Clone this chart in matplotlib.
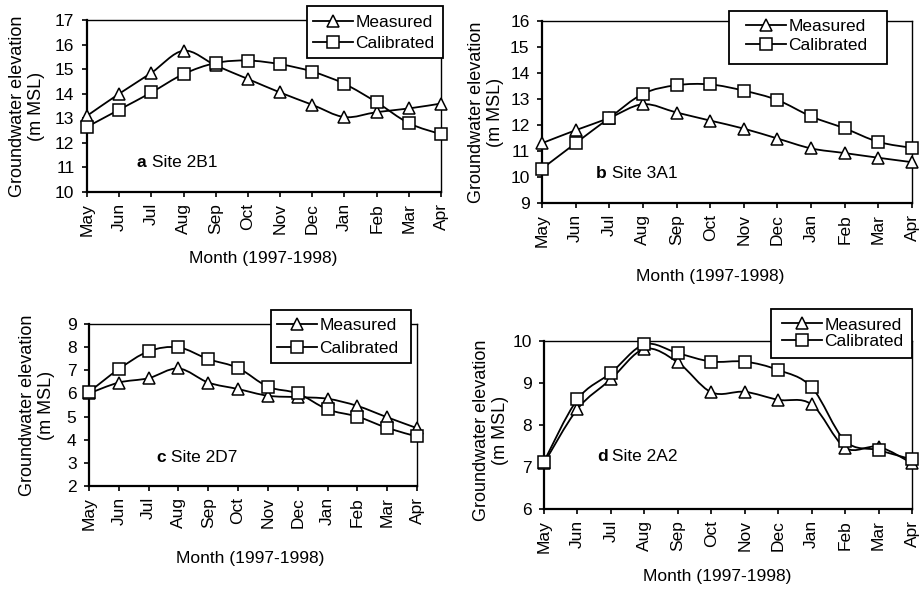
import matplotlib
matplotlib.use("Agg")
import matplotlib.pyplot as plt
import numpy as np
from matplotlib.path import Path
from matplotlib.patches import PathPatch, Rectangle
from matplotlib.lines import Line2D

plt.rcParams['font.family'] = ['Liberation Sans', 'DejaVu Sans']

months = ["May", "Jun", "Jul", "Aug", "Sep", "Oct", "Nov", "Dec", "Jan", "Feb", "Mar", "Apr"]

measured_2b1 = [13.1, 14.0, 14.85, 15.75, 15.15, 14.6, 14.05, 13.55, 13.05, 13.25, 13.4, 13.6]
calibrated_2b1 = [12.65, 13.35, 14.05, 14.8, 15.25, 15.35, 15.2, 14.9, 14.4, 13.65, 12.8, 12.35]

measured_3a1 = [11.3, 11.8, 12.27, 12.8, 12.48, 12.17, 11.86, 11.48, 11.1, 10.92, 10.74, 10.57]
calibrated_3a1 = [10.32, 11.3, 12.27, 13.2, 13.53, 13.56, 13.32, 12.96, 12.33, 11.87, 11.35, 11.12]

measured_2d7 = [6.0, 6.47, 6.66, 7.08, 6.47, 6.19, 5.9, 5.84, 5.77, 5.46, 4.97, 4.5]
calibrated_2d7 = [6.06, 7.05, 7.82, 7.99, 7.48, 7.1, 6.29, 6.0, 5.31, 5.0, 4.51, 4.14]

measured_2a2 = [7.09, 8.38, 9.09, 9.81, 9.49, 8.78, 8.79, 8.6, 8.49, 7.46, 7.48, 7.09]
calibrated_2a2 = [7.13, 8.61, 9.24, 9.92, 9.71, 9.51, 9.51, 9.31, 8.9, 7.62, 7.4, 7.18]

series_labels = ["Measured", "Calibrated"]

W, H = 924, 589
FS = 12.5
fig = plt.figure(figsize=(W / 100, H / 100), dpi=100)


def fx(px):
    return px / W


def fy(py):
    return 1 - py / H


def smooth_path(x, y):
    """Cubic Bezier path through the points (Catmull-Rom style smoothing)."""
    pts = np.column_stack([x, y]).astype(float)
    n = len(pts)
    verts = [pts[0]]
    codes = [Path.MOVETO]
    for i in range(n - 1):
        p0 = pts[i - 1] if i > 0 else pts[i]
        p1 = pts[i]
        p2 = pts[i + 1]
        p3 = pts[i + 2] if i + 2 < n else pts[i + 1]
        c1 = p1 + (p2 - p0) / 6.0
        c2 = p2 - (p3 - p1) / 6.0
        verts += [c1, c2, p2]
        codes += [Path.CURVE4] * 3
    return Path(np.array(verts), codes)


MARKERS = (('^', 9), ('s', 8.5))


def panel(box, ylim, meas, cal, letter, site, text_xy, leg_box, leg_anchor, leg_spacing,
          ylab_xy, xlab_xy):
    l, t, r, b = box
    ax = fig.add_axes([fx(l), fy(b), (r - l) / W, (b - t) / H])
    x = np.arange(len(months))
    for series, (marker, ms) in zip((meas, cal), MARKERS):
        ax.add_patch(PathPatch(smooth_path(x, series), fill=False, edgecolor='black',
                               lw=1.3, transform=ax.transData, zorder=3))
        ax.plot(x, series, ls='none', marker=marker, ms=ms, mfc='white', mec='black',
                mew=1.1, zorder=4, clip_on=False)
    ax.set_xlim(0, len(months) - 1)
    ax.set_ylim(*ylim)
    ax.set_xticks(x)
    ax.set_xticklabels(months, rotation=90)
    ax.set_yticks(np.arange(ylim[0], ylim[1] + 1, 1))
    ax.tick_params(axis='both', direction='out', length=3.5, width=1.2, labelsize=FS)
    ax.tick_params(axis='x', pad=4.5)
    ax.tick_params(axis='y', pad=5.5)
    for side in ('left', 'bottom'):
        ax.spines[side].set_linewidth(1.6)
    for side in ('top', 'right'):
        ax.spines[side].set_linewidth(1.0)

    lt = ax.text(text_xy[0], text_xy[1], letter, fontsize=FS, fontweight='bold',
                 ha='left', va='center')
    ax.annotate(" " + site, xy=(1, 0), xycoords=lt, ha='left', va='bottom', fontsize=FS)

    # legend: entries without frame, box drawn separately
    handles = [Line2D([], [], color='black', lw=1.3, marker=m, ms=ms, mfc='white',
                      mec='black', mew=1.1) for m, ms in MARKERS]
    fig.legend(handles, series_labels, loc='center left',
               bbox_to_anchor=(fx(leg_anchor[0]), fy(leg_anchor[1])),
               fontsize=FS, frameon=False, handlelength=2.3, handletextpad=0.15,
               labelspacing=leg_spacing, borderpad=0, borderaxespad=0)
    bl, bt, br, bb = leg_box
    fig.add_artist(Rectangle((fx(bl), fy(bb)), (br - bl) / W, (bb - bt) / H,
                             transform=fig.transFigure, facecolor='white',
                             edgecolor='black', lw=1.3, zorder=5))

    fig.text(fx(ylab_xy[0]), fy(ylab_xy[1]), "Groundwater elevation\n(m MSL)",
             rotation=90, ha='center', va='center', multialignment='center',
             fontsize=13, linespacing=1.2)
    fig.text(fx(xlab_xy[0]), fy(xlab_xy[1]), "Month (1997-1998)",
             ha='center', va='center', fontsize=FS)
    return ax


panel((87, 20, 441, 192), (10, 17), measured_2b1, calibrated_2b1, "a", "Site 2B1",
      (1.55, 11.2), (307, 6, 443, 58), (313, 33), 0.3, (27, 106), (263, 258))
panel((542, 21, 912, 203), (9, 16), measured_3a1, calibrated_3a1, "b", "Site 3A1",
      (1.6, 10.15), (729, 11, 887, 64), (746, 36), 0.2, (486, 112), (710, 276))
panel((89, 324, 417, 486), (2, 9), measured_2d7, calibrated_2d7, "c", "Site 2D7",
      (2.25, 3.25), (271, 310, 411, 363), (277, 337), 0.45, (37, 405), (250, 558))
panel((544, 341, 912, 509), (6, 10), measured_2a2, calibrated_2a2, "d", "Site 2A2",
      (1.58, 7.24), (771, 309, 912, 358), (782, 333), 0.05, (491, 430), (717, 577))

# keep the legend entries above their boxes
for leg in fig.legends:
    leg.set_zorder(6)

fig.savefig("out.png", dpi=100)
